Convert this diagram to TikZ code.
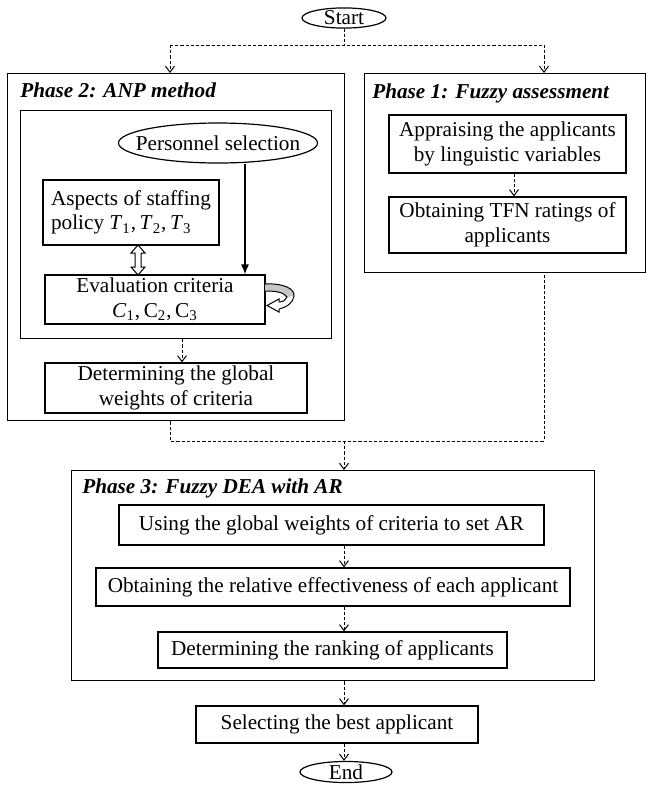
\documentclass[tikz,border=0pt]{standalone}
\usepackage{fontspec}
\setmainfont{Liberation Serif}
\usetikzlibrary{arrows.meta,calc,shapes.geometric}
\begin{document}
\begin{tikzpicture}[x=0.5pt,y=-0.5pt,
 font=\fontsize{10.6}{12.3}\selectfont,
 bx/.style={draw,line width=0.6pt,inner sep=0pt,align=center},
 frame/.style={draw,line width=0.7pt,inner sep=0pt,anchor=north west},
 el/.style={draw,ellipse,line width=0.6pt,inner sep=0pt},
 dsh/.style={line width=0.5pt,dash pattern=on 1.6pt off 1pt},
 tip/.style={-{Straight Barb[length=3pt,width=4.5pt]}},
 ttl/.style={anchor=base west,inner sep=0pt,font=\fontsize{10.6}{12.3}\selectfont\bfseries\itshape}]
\useasboundingbox (0,0) rectangle (646,788);

% named columns
\coordinate (lx) at (170,0);
\coordinate (rx) at (544,0);
\coordinate (cx) at (344,0);
\coordinate (br) at (0,45);
\coordinate (mg) at (0,441);
\coordinate (ax) at (245,0);
\coordinate (gx) at (182,0);
\coordinate (fx) at (514,0);

% start
\node[el,minimum width=42pt,minimum height=10pt] (start) at (344,18) {\makebox[0pt]{Start}};

% phase frames
\node[frame,minimum width=168.5pt,minimum height=173.5pt] (p2) at (7,73) {};
\node[frame,minimum width=140.5pt,minimum height=99.5pt] (p1) at (364,73) {};
\node[frame,minimum width=261.5pt,minimum height=105pt] (p3) at (71,470) {};
\node[frame,line width=0.6pt,minimum width=155.5pt,minimum height=114pt] (ib) at (20,110) {};

% titles
\node[ttl] (t2) at (20,97) {Phase 2: ANP method};
\node[ttl] (t1) at (372,98) {Phase 1: Fuzzy assessment};
\node[ttl] (t3) at (82,493) {Phase 3: Fuzzy DEA with AR};

% phase 2 content
\node[el,minimum width=99.5pt,minimum height=20pt] (ps) at (218,143) {\makebox[0pt]{Personnel selection}};
\node[bx,align=left,minimum width=88pt,minimum height=32.5pt] (asp) at (131,212.5)
  {Aspects of staffing\\policy \textit{T}\textsubscript{1},\,\textit{T}\textsubscript{2},\,\textit{T}\textsubscript{3}};
\node[bx,minimum width=110pt,minimum height=24.5pt] (ev) at (155,299.5)
  {Evaluation criteria\\\textit{C}\textsubscript{1},\,C\textsubscript{2},\,C\textsubscript{3}};
\node[bx,minimum width=131pt,minimum height=25pt] (dg) at (176,388)
  {Determining the global\\weights of criteria};

% phase 1 content
\node[bx,minimum width=118.5pt,minimum height=29pt] (ap) at (507.5,144)
  {Appraising the applicants\\by linguistic variables};
\node[bx,minimum width=118.5pt,minimum height=28pt] (tfn) at (507.5,225)
  {Obtaining TFN ratings of\\applicants};

% phase 3 content
\node[bx,minimum width=212.5pt,minimum height=20pt] (us) at (331.5,525)
  {Using the global weights of criteria to set AR};
\node[bx,minimum width=237pt,minimum height=19pt] (ob) at (333,587)
  {Obtaining the relative effectiveness of each applicant};
\node[bx,minimum width=174.5pt,minimum height=18pt] (rk) at (332.5,650)
  {Determining the ranking of applicants};
\node[bx,minimum width=141pt,minimum height=18.5pt] (sb) at (337,724.5)
  {Selecting the best applicant};
\node[el,minimum width=46pt,minimum height=9.5pt] (end) at (346,772) {\makebox[0pt]{End}};

% branching from start
\draw[dsh] (start.south) -- (cx |- br);
\draw[dsh] (lx |- br) -- (rx |- br);
\draw[dsh,tip] (lx |- br) -- (lx |- p2.north);
\draw[dsh,tip] (rx |- br) -- (rx |- p1.north);

% phase 2 links
\draw[line width=0.6pt,-{Latex[length=5pt,width=4pt]}] (ax |- ps.south) -- (ax |- ev.north);
\draw[line width=0.5pt,fill=white]
  (138,245) -- (145,253) -- (141,253) -- (141,267) -- (145,267) -- (138,275)
  -- (131,267) -- (135,267) -- (135,253) -- (131,253) -- cycle;
% self loop on evaluation criteria
\fill[gray!45] (265,284) .. controls (284,283) and (295,289) .. (294,296)
  -- (287,297) .. controls (284,292) and (275,291) .. (265,291) -- cycle;
\draw[line width=0.5pt] (265,284) .. controls (284,283) and (295,289) .. (294,296)
  .. controls (293,303) and (287,307) .. (279,309);
\draw[line width=0.5pt] (265,291) .. controls (275,291) and (284,292) .. (287,297)
  .. controls (286,300) and (283,302) .. (279,302);
\draw[line width=0.5pt,fill=white] (279,302) -- (279,299) -- (267,305.5) -- (279,312) -- (279,309);
\draw[dsh,tip] (gx |- ib.south) -- (gx |- dg.north);

% phase 1 link
\draw[dsh,tip] (fx |- ap.south) -- (fx |- tfn.north);

% merge
\draw[dsh] (lx |- p2.south) -- (lx |- mg) -- (rx |- mg) -- (rx |- p1.south);
\draw[dsh,tip] (cx |- mg) -- (cx |- p3.north);

% phase 3 chain
\draw[dsh,tip] (cx |- us.south) -- (cx |- ob.north);
\draw[dsh,tip] (cx |- ob.south) -- (cx |- rk.north);
\draw[dsh,tip] (cx |- p3.south) -- (cx |- sb.north);
\draw[dsh,tip] (cx |- sb.south) -- (cx |- end.north);
\end{tikzpicture}
\end{document}
